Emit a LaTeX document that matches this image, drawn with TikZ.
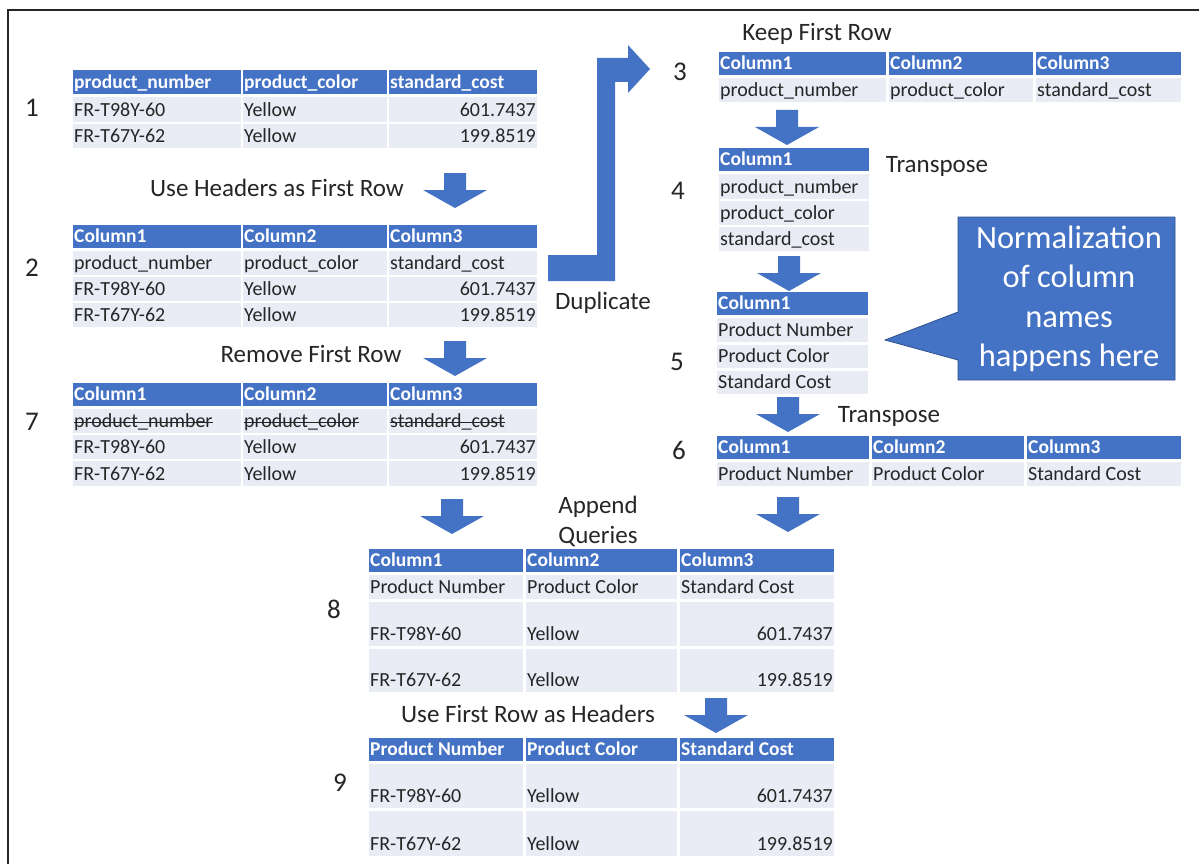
\documentclass[tikz,border=0pt]{standalone}
\usepackage{fontspec}
\setmainfont{Carlito}
\definecolor{hblue}{HTML}{4472C4}
\definecolor{hedge}{HTML}{2F528F}
\definecolor{rowc}{HTML}{E9EBF5}
\definecolor{txt}{HTML}{262626}
\tikzset{
  hdr/.style={fill=hblue},
  rowfill/.style={fill=rowc},
  htext/.style={inner sep=0pt, text=white, font=\fontsize{19.5}{21}\selectfont\bfseries},
  btext/.style={inner sep=0pt, text=txt, font=\fontsize{20}{22}\selectfont},
  steplabel/.style={inner sep=0pt, text=txt, font=\fontsize{27}{30}\selectfont},
  optext/.style={inner sep=0pt, text=txt, font=\fontsize{25}{30}\selectfont, align=center},
  calltext/.style={inner sep=0pt, text=white, font=\fontsize{32.5}{39.5}\selectfont, align=center},
  blockarrow/.style={fill=hblue, draw=none},
  strike/.style={draw=txt, line width=1.2pt},
}
\newcommand\tabhead[6]{\fill[hdr] (#2,#3) rectangle (#4,#5); \node[htext,anchor=base west] (#1) at (#2+1,#5-5.5) {#6};}
\newcommand\tableft[6]{\fill[rowfill] (#2,#3) rectangle (#4,#5); \node[btext,anchor=base west] (#1) at (#2+1,#5-5.5) {#6};}
\newcommand\tabright[6]{\fill[rowfill] (#2,#3) rectangle (#4,#5); \node[btext,anchor=base east] (#1) at (#4-1,#5-5.5) {#6};}
\newcommand\blockdown[2]{\fill[blockarrow] (#1-11,#2) -- (#1+11,#2) -- (#1+11,#2+17) -- (#1+32,#2+17) -- (#1,#2+35) -- (#1-32,#2+17) -- (#1-11,#2+17) -- cycle;}
\begin{document}
\begin{tikzpicture}[x=1pt,y=-1pt]
\useasboundingbox (0,0) rectangle (1199,864);
\fill[white] (0,0) rectangle (1199,864);
\draw[line width=1.5pt, black!85] (8,864) -- (8,10) -- (1199,10);

% ---------- Table 1
\tabhead{t1h1}{73}{70}{241}{94}{product\_number}
\tabhead{t1h2}{243}{70}{387}{94}{product\_color}
\tabhead{t1h3}{389}{70}{537}{94}{standard\_cost}
\tableft{t1a1}{73}{97}{241}{122}{FR-T98Y-60}
\tableft{t1a2}{243}{97}{387}{122}{Yellow}
\tabright{t1a3}{389}{97}{537}{122}{601.7437}
\tableft{t1b1}{73}{124}{241}{148}{FR-T67Y-62}
\tableft{t1b2}{243}{124}{387}{148}{Yellow}
\tabright{t1b3}{389}{124}{537}{148}{199.8519}
\node[steplabel] (n1) at (32,108) {1};

\node[optext] (op1) at (277,188) {Use Headers as First Row};
\blockdown{455}{173}

% ---------- Table 2
\tabhead{t2h1}{73}{225}{241}{248}{Column1}
\tabhead{t2h2}{243}{225}{387}{248}{Column2}
\tabhead{t2h3}{389}{225}{537}{248}{Column3}
\tableft{t2a1}{73}{251}{241}{275}{product\_number}
\tableft{t2a2}{243}{251}{387}{275}{product\_color}
\tableft{t2a3}{389}{251}{537}{275}{standard\_cost}
\tableft{t2b1}{73}{277}{241}{301}{FR-T98Y-60}
\tableft{t2b2}{243}{277}{387}{301}{Yellow}
\tabright{t2b3}{389}{277}{537}{301}{601.7437}
\tableft{t2c1}{73}{303}{241}{327}{FR-T67Y-62}
\tableft{t2c2}{243}{303}{387}{327}{Yellow}
\tabright{t2c3}{389}{303}{537}{327}{199.8519}
\node[steplabel] (n2) at (32,268) {2};

\node[optext] (op2) at (311,354) {Remove First Row};
\blockdown{455}{341}

% ---------- Table 7
\tabhead{t7h1}{73}{383}{241}{406}{Column1}
\tabhead{t7h2}{243}{383}{387}{406}{Column2}
\tabhead{t7h3}{389}{383}{537}{406}{Column3}
\tableft{t7a1}{73}{409}{241}{433}{product\_number}
\tableft{t7a2}{243}{409}{387}{433}{product\_color}
\tableft{t7a3}{389}{409}{537}{433}{standard\_cost}
\tableft{t7b1}{73}{435}{241}{459}{FR-T98Y-60}
\tableft{t7b2}{243}{435}{387}{459}{Yellow}
\tabright{t7b3}{389}{435}{537}{459}{601.7437}
\tableft{t7c1}{73}{461}{241}{486}{FR-T67Y-62}
\tableft{t7c2}{243}{461}{387}{486}{Yellow}
\tabright{t7c3}{389}{461}{537}{486}{199.8519}
\foreach \s in {t7a1,t7a2,t7a3}{
  \draw[strike] ([yshift=5pt]\s.base west) -- ([yshift=5pt]\s.base east);
}
\node[steplabel] (n7) at (32,422) {7};

% ---------- Duplicate bent arrow
\fill[blockarrow] (548,255) -- (597,255) -- (597,58) -- (628,58) -- (628,45) -- (650,69)
   -- (628,93) -- (628,82) -- (615,82) -- (615,281) -- (548,281) -- cycle;
\node[optext] (dup) at (603,303) {Duplicate};

% ---------- Table 3
\node[optext] (op3) at (817,34) {Keep First Row};
\tabhead{t3h1}{719}{52}{886}{75}{Column1}
\tabhead{t3h2}{889}{52}{1033}{75}{Column2}
\tabhead{t3h3}{1036}{52}{1181}{75}{Column3}
\tableft{t3a1}{719}{78}{886}{102}{product\_number}
\tableft{t3a2}{889}{78}{1033}{102}{product\_color}
\tableft{t3a3}{1036}{78}{1181}{102}{standard\_cost}
\node[steplabel] (n3) at (680,72) {3};

\blockdown{787}{110}

% ---------- Table 4
\tabhead{t4h1}{719}{148}{869}{171}{Column1}
\tableft{t4a1}{719}{174}{869}{199}{product\_number}
\tableft{t4b1}{719}{201}{869}{225}{product\_color}
\tableft{t4c1}{719}{227}{869}{251}{standard\_cost}
\node[steplabel] (n4) at (678,191) {4};
\node[optext] (op4) at (937,166) {Transpose};

\blockdown{789}{256}

% ---------- Table 5
\tabhead{t5h1}{717}{292}{868}{315}{Column1}
\tableft{t5a1}{717}{318}{868}{342}{Product Number}
\tableft{t5b1}{717}{345}{868}{368}{Product Color}
\tableft{t5c1}{717}{371}{868}{394}{Standard Cost}
\node[steplabel] (n5) at (677,362) {5};

% ---------- Callout
\fill[hblue, draw=hedge, line width=0.8pt] (958,217) -- (1175,217) -- (1175,380) -- (958,380) -- (958,360)
   -- (885,340) -- (958,312) -- cycle;
\node[calltext] (call) at (1069,299) {Normalization\\of column\\names\\happens here};

\blockdown{788}{397}
\node[optext] (op5) at (889,416) {Transpose};

% ---------- Table 6
\tabhead{t6h1}{717}{436}{869}{459}{Column1}
\tabhead{t6h2}{872}{436}{1024}{459}{Column2}
\tabhead{t6h3}{1027}{436}{1181}{459}{Column3}
\tableft{t6a1}{717}{462}{869}{486}{Product Number}
\tableft{t6a2}{872}{462}{1024}{486}{Product Color}
\tableft{t6a3}{1027}{462}{1181}{486}{Standard Cost}
\node[steplabel] (n6) at (679,450) {6};

\blockdown{452}{499}
\blockdown{788}{497}
\node[optext] (op6) at (598,521) {Append\\Queries};

% ---------- Table 8
\tabhead{t8h1}{369}{549}{523}{572}{Column1}
\tabhead{t8h2}{526}{549}{677}{572}{Column2}
\tabhead{t8h3}{680}{549}{834}{572}{Column3}
\tableft{t8a1}{369}{575}{523}{599}{Product Number}
\tableft{t8a2}{526}{575}{677}{599}{Product Color}
\tableft{t8a3}{680}{575}{834}{599}{Standard Cost}
\tableft{t8b1}{369}{602}{523}{646}{FR-T98Y-60}
\tableft{t8b2}{526}{602}{677}{646}{Yellow}
\tabright{t8b3}{680}{602}{834}{646}{601.7437}
\tableft{t8c1}{369}{649}{523}{692}{FR-T67Y-62}
\tableft{t8c2}{526}{649}{677}{692}{Yellow}
\tabright{t8c3}{680}{649}{834}{692}{199.8519}
\node[steplabel] (n8) at (334,609) {8};

\node[optext] (op7) at (528,714) {Use First Row as Headers};
\blockdown{716}{698}

% ---------- Table 9
\tabhead{t9h1}{369}{738}{523}{761}{Product Number}
\tabhead{t9h2}{526}{738}{677}{761}{Product Color}
\tabhead{t9h3}{680}{738}{834}{761}{Standard Cost}
\tableft{t9a1}{369}{764}{523}{808}{FR-T98Y-60}
\tableft{t9a2}{526}{764}{677}{808}{Yellow}
\tabright{t9a3}{680}{764}{834}{808}{601.7437}
\tableft{t9b1}{369}{811}{523}{856}{FR-T67Y-62}
\tableft{t9b2}{526}{811}{677}{856}{Yellow}
\tabright{t9b3}{680}{811}{834}{856}{199.8519}
\node[steplabel] (n9) at (340,783) {9};
\end{tikzpicture}
\end{document}
